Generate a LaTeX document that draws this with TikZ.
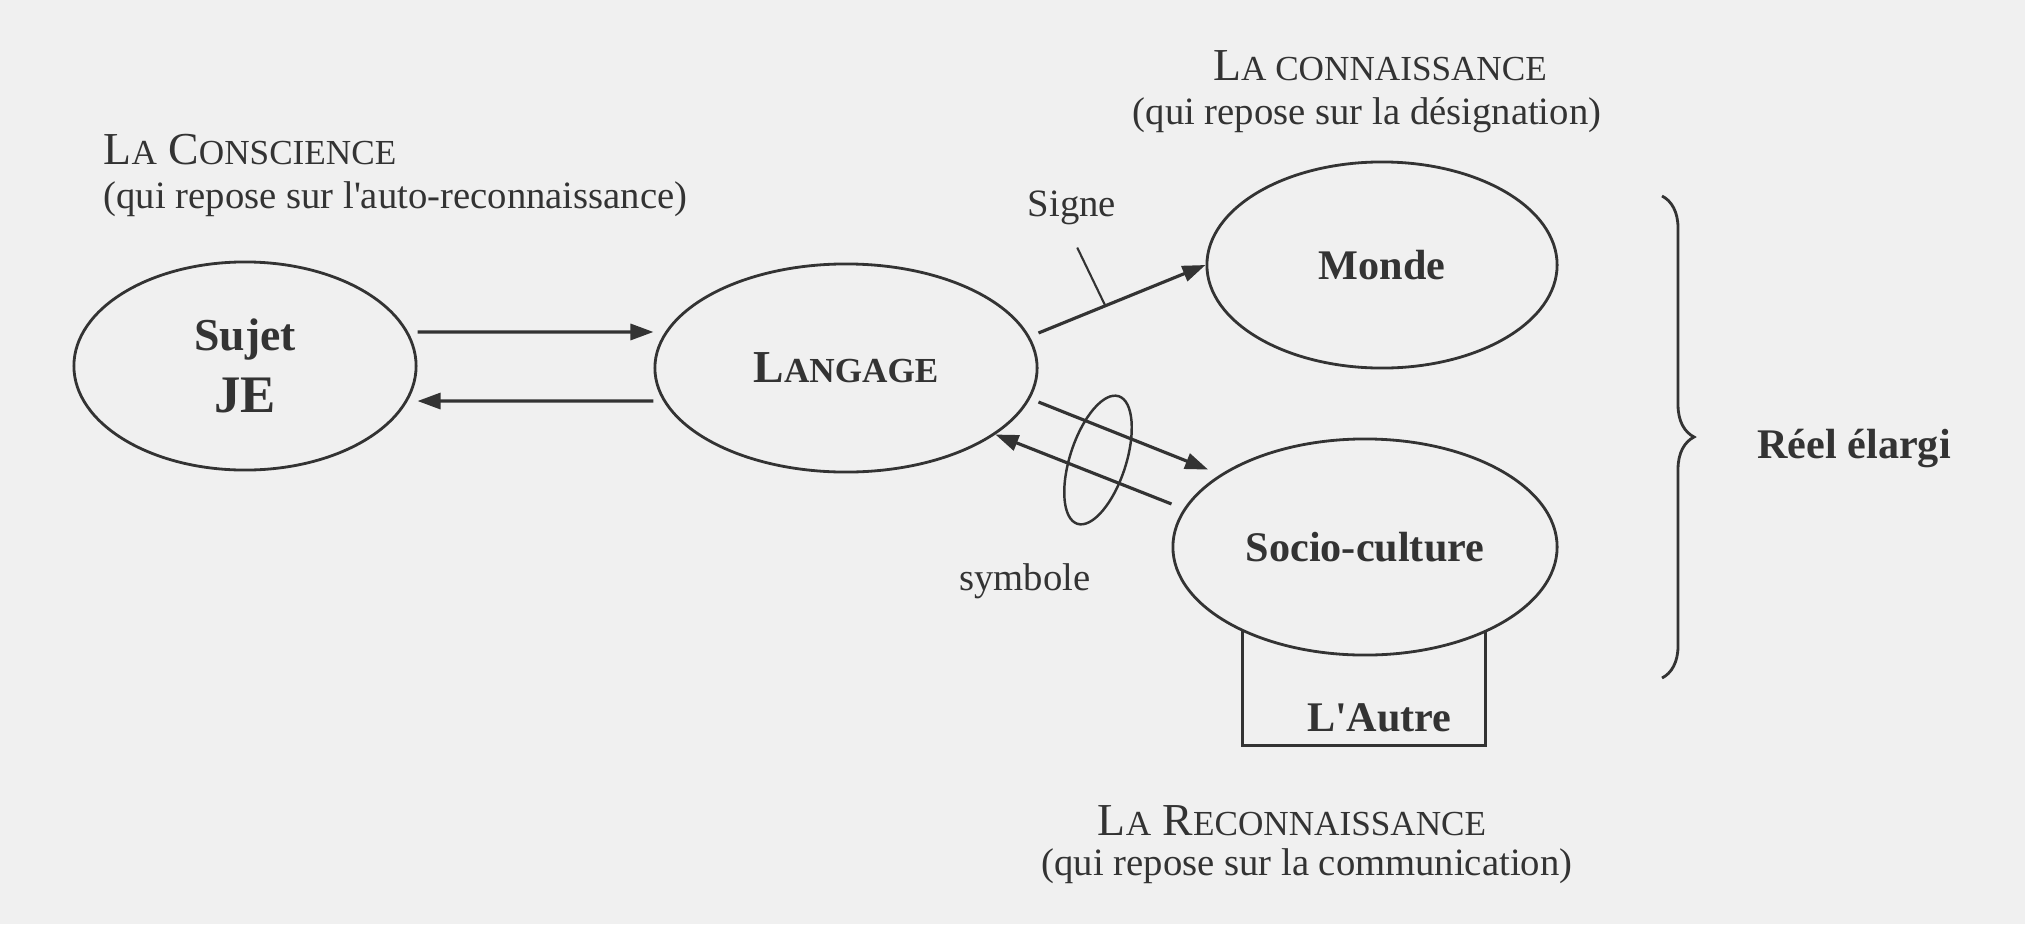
\documentclass[tikz,border=0pt]{standalone}
\usepackage{fontspec}
\setmainfont{Liberation Serif}
\usetikzlibrary{
  shapes,
  arrows.meta,
  decorations.pathreplacing
}
\definecolor{papier}{gray}{0.94}
\definecolor{encre}{gray}{0.2}
\newcommand{\pc}[1]{{\fontsize{10}{12}\selectfont #1}}

\begin{document}
\begin{tikzpicture}[
  x=0.01cm, y=-0.01cm,
  every node/.style = {text=encre},
  bulle/.style = {shape=ellipse, draw=encre, line width=0.8pt, fill=papier,
    inner sep=0pt, font=\fontsize{12}{14}\selectfont\bfseries},
  fleche/.style = {-{Triangle[length=2.3mm,width=1.6mm]}, draw=encre, line width=0.9pt},
  trait/.style = {draw=encre, line width=0.6pt},
  titre/.style = {anchor=base, font=\fontsize{13}{15}\selectfont},
  sous/.style = {anchor=base, font=\fontsize{11}{13}\selectfont}]
  \fill[papier] (0,0) rectangle (2025,924);
  \useasboundingbox (0,0) rectangle (2025,924);

  % les bulles
  \node[bulle, minimum width=3.42cm, minimum height=2.08cm, align=center,
    font=\fontsize{13}{17.5}\selectfont\bfseries] (sujet) at (245,366)
    {Sujet\\{\fontsize{15}{17.5}\selectfont JE}};
  \node[bulle, minimum width=3.82cm, minimum height=2.08cm,
    font=\fontsize{13}{15}\selectfont\bfseries] (langage) at (846,368) {L\pc{ANGAGE}};
  \node[bulle, minimum width=3.50cm, minimum height=2.06cm] (monde) at (1382,265) {Monde};
  \node[draw=encre, line width=0.8pt, anchor=south, text width=1.75cm, align=right,
    inner xsep=0.34cm, inner ysep=0.145cm, text height=1.08cm, text depth=0pt,
    font=\fontsize{12}{14}\selectfont\bfseries] (autre) at (1364,747) {L\textquotesingle Autre};
  \node[bulle, minimum width=3.84cm, minimum height=2.16cm] (socio) at (1365,547) {Socio-culture};

  % les fleches
  \draw[fleche] ([yshift=0.34cm]sujet.east) -- ([yshift=0.36cm]langage.west);
  \draw[fleche] ([yshift=-0.33cm]langage.west) -- ([yshift=-0.35cm]sujet.east);
  \draw[fleche] ([yshift=0.35cm]langage.east) -- (monde.west) coordinate[pos=0.4] (pSigne);
  \draw[fleche] ([yshift=-0.34cm]langage.east) -- ([xshift=-0.2cm]socio.north west);
  \draw[fleche] ([yshift=0.43cm]socio.west) -- (langage.-24);
  \node[draw=encre, line width=0.7pt, ellipse, inner sep=0pt, minimum width=0.56cm,
    minimum height=1.34cm, rotate=-18] (anneau) at (1098,460) {};

  % etiquettes
  \node[sous] (signe) at (1072,216) {Signe};
  \draw[trait, shorten >=0.12cm] (pSigne) -- (signe.south);
  \node[sous] (symbole) at (1025,590) {symbole};

  \node[titre, anchor=base west, inner xsep=0pt] (conscience) at (103,164) {L\pc{A} C\pc{ONSCIENCE}};
  \node[sous, anchor=base west, inner xsep=0pt] (conscienceb) at (103,208)
    {(qui repose sur l\textquotesingle auto-reconnaissance)};
  \node[titre] (connaissance) at (1380,80) {L\pc{A CONNAISSANCE}};
  \node[sous] (connaissanceb) at (1367,124) {(qui repose sur la désignation)};
  \node[titre] (reconnaissance) at (1292,835) {L\pc{A} R\pc{ECONNAISSANCE}};
  \node[sous] (reconnaissanceb) at (1307,875) {(qui repose sur la communication)};

  % accolade
  \draw[draw=encre, line width=0.8pt, decorate, decoration={brace, amplitude=0.32cm}]
    (1662,196) coordinate (haut) -- (1662,678) coordinate (bas);
  \node[anchor=base, font=\fontsize{12}{14}\selectfont\bfseries] (reel) at (1854,458) {Réel élargi};
\end{tikzpicture}
\end{document}
